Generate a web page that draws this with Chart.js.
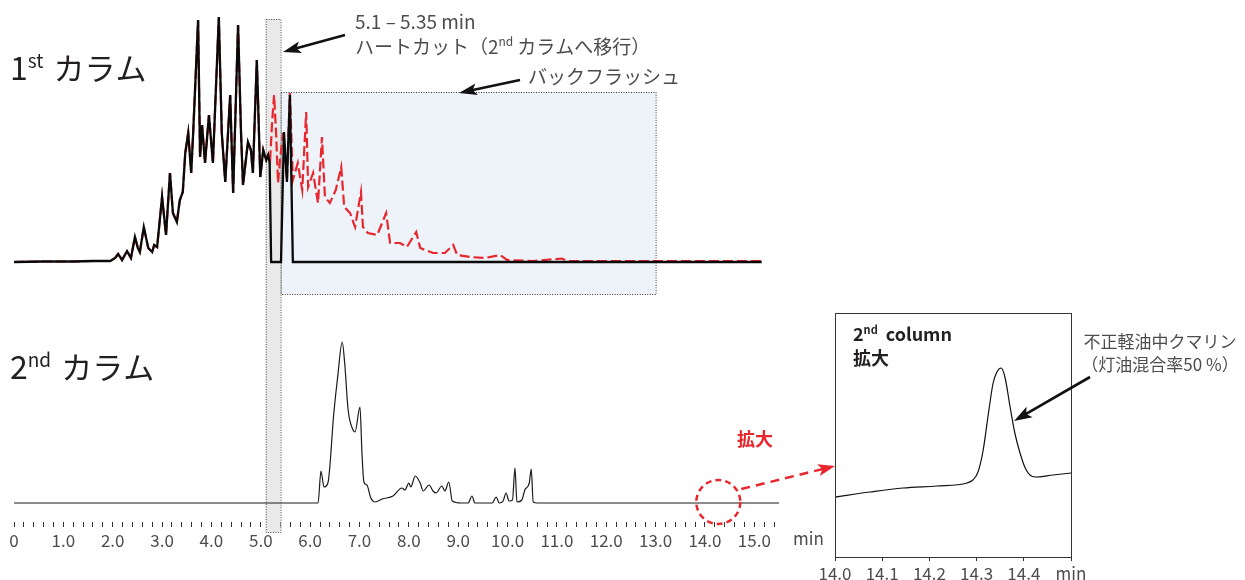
<!DOCTYPE html>
<html><head><meta charset="utf-8">
<script src="https://cdn.jsdelivr.net/npm/chart.js@4.4.0/dist/chart.umd.min.js"></script>
<style>
html,body{margin:0;padding:0;background:#fff;}
#wrap{position:relative;width:1245px;height:580px;overflow:hidden;}
canvas{position:absolute;left:0;top:0;}
</style></head><body>
<div id="wrap"><canvas id="main" width="1245" height="580"></canvas><canvas id="inset" width="1245" height="580"></canvas></div>
<script>
// ---------- data (retention time in min, detector signal in arbitrary units) ----------
const col1Time   = [0, 0.6, 1.2, 1.6, 1.95, 2.05, 2.11, 2.19, 2.29, 2.37, 2.45, 2.51, 2.55, 2.63, 2.72, 2.80, 2.84, 2.90, 3.00, 3.08, 3.16, 3.22, 3.30, 3.36, 3.42, 3.47, 3.53, 3.59, 3.63, 3.73, 3.77, 3.81, 3.87, 3.95, 4.03, 4.15, 4.21, 4.28, 4.38, 4.44, 4.54, 4.60, 4.64, 4.74, 4.80, 4.84, 4.92, 4.99, 5.05, 5.11, 5.15, 5.18, 5.21, 5.41, 5.47, 5.53, 5.59, 5.65, 15.15];
const col1Signal = [0, 0.5, 0.5, 1, 1, 4, 8, 2, 11, 4, 25, 14, 10, 35, 14, 10, 17, 15, 65, 27, 89, 49, 40, 62, 70, 109, 129, 89, 129, 242, 105, 137, 99, 147, 99, 245, 129, 80, 167, 69, 237, 129, 77, 120, 112, 89, 202, 85, 112, 102, 107, 99, 0, 0, 130, 80, 167, 0, 0];
// backflush trace (red dashed) after the heart-cut start; before that it follows col1
const flushStart  = 5.15;
const flushTime   = [5.19, 5.23, 5.27, 5.31, 5.35, 5.39, 5.45, 5.53, 5.59, 5.65, 5.75, 5.84, 5.92, 5.96, 6.06, 6.16, 6.24, 6.30, 6.40, 6.52, 6.63, 6.69, 6.81, 6.91, 7.03, 7.07, 7.17, 7.36, 7.54, 7.62, 7.82, 7.96, 8.15, 8.23, 8.49, 8.73, 8.90, 8.98, 9.24, 9.54, 9.85, 9.99, 10.52, 11.10, 11.21, 15.15];
const flushSignal = [102, 140, 167, 129, 79, 102, 129, 82, 169, 82, 99, 72, 150, 75, 89, 59, 125, 65, 59, 72, 95, 55, 49, 35, 70, 35, 29, 27, 49, 19, 19, 15, 30, 14, 9, 9, 17, 7, 5, 4, 7, 2, 1, 3.5, 1, 1];
const col2Time   = [0, 6.10, 6.16, 6.22, 6.28, 6.36, 6.48, 6.56, 6.65, 6.70, 6.77, 6.87, 6.91, 7.01, 7.05, 7.09, 7.15, 7.23, 7.32, 7.46, 7.68, 7.86, 7.92, 8.00, 8.04, 8.13, 8.23, 8.29, 8.41, 8.49, 8.55, 8.67, 8.73, 8.81, 8.88, 9.06, 9.20, 9.28, 9.34, 9.69, 9.77, 9.83, 9.91, 9.97, 10.03, 10.10, 10.15, 10.19, 10.29, 10.35, 10.44, 10.48, 10.52, 10.60, 15.5];
const col2Signal = [0, 0, 0, 32, 16, 20, 90, 127, 161, 140, 93, 73, 71, 96, 50, 21, 18, 5, 1, 4, 7, 15, 13, 20, 16, 27, 20, 12, 18, 12, 10, 17, 12, 21, 2, 0, 0, 7, 0, 0, 6, 0, 2, 10, 2, 3, 35, 1, 3, 13, 20, 34, 1, 0, 0];
const zoomTime   = [14.0, 14.074, 14.144, 14.216, 14.28, 14.292, 14.303, 14.314, 14.324, 14.335, 14.343, 14.352, 14.36, 14.371, 14.381, 14.392, 14.403, 14.413, 14.424, 14.462, 14.5];
const zoomSignal = [60, 65, 69, 71, 74, 77, 85, 107, 140, 174, 185, 189, 180, 150, 124, 104, 89, 82, 80, 82, 84];
const mainTickLabels  = ['0','1.0','2.0','3.0','4.0','5.0','6.0','7.0','8.0','9.0','10.0','11.0','12.0','13.0','14.0','15.0'];
const insetTickLabels = ['14.0','14.1','14.2','14.3','14.4','min'];

const FONT = "'Noto Sans CJK JP', 'Noto Sans', sans-serif";
const RED = '#e8262d';
const GRAY_TXT = '#4d4d4d';
Chart.defaults.font.family = FONT;

const pts = (xs, ys) => xs.map((x, i) => ({x, y: ys[i]}));
const col1Pts = pts(col1Time, col1Signal);
const flushPts = col1Pts.filter(p => p.x <= flushStart).concat(pts(flushTime, flushSignal));

function runs(ctx, x, y, parts, color) {
  let cx = x;
  for (const p of parts) {
    ctx.font = (p.bold ? 'bold ' : '') + p.size + 'px ' + FONT;
    ctx.fillStyle = p.color || color;
    ctx.fillText(p.t, cx, y + (p.dy || 0));
    cx += ctx.measureText(p.t).width + (p.gap || 0);
  }
}
function arrow(ctx, x1, y1, x2, y2, color, w, dash, hl, hw) {
  const a = Math.atan2(y2 - y1, x2 - x1);
  const bx = x2 - hl * Math.cos(a), by = y2 - hl * Math.sin(a);
  ctx.save();
  ctx.strokeStyle = color; ctx.fillStyle = color; ctx.lineWidth = w;
  ctx.setLineDash(dash || []);
  ctx.beginPath(); ctx.moveTo(x1, y1); ctx.lineTo(bx + 2*Math.cos(a), by + 2*Math.sin(a)); ctx.stroke();
  ctx.setLineDash([]);
  ctx.beginPath();
  ctx.moveTo(x2, y2);
  ctx.lineTo(bx - hw/2 * Math.sin(a) - 3*Math.cos(a), by + hw/2 * Math.cos(a) - 3*Math.sin(a));
  ctx.lineTo(bx + 1*Math.cos(a), by + 1*Math.sin(a));
  ctx.lineTo(bx + hw/2 * Math.sin(a) - 3*Math.cos(a), by - hw/2 * Math.cos(a) - 3*Math.sin(a));
  ctx.closePath(); ctx.fill();
  ctx.restore();
}

const boxesPlugin = {
  id: 'boxes',
  beforeDatasetsDraw(chart) {
    const {ctx, chartArea} = chart;
    const x = chart.scales.x, y1 = chart.scales.y1;
    ctx.save();
    // backflush region
    let l = x.getPixelForValue(5.4), r = x.getPixelForValue(13.0);
    let t = y1.getPixelForValue(170), b = y1.getPixelForValue(-32);
    ctx.fillStyle = '#eef2f9';
    ctx.fillRect(l, t, r - l, b - t);
    ctx.strokeStyle = '#333'; ctx.lineWidth = 1; ctx.setLineDash([1, 1.5]);
    ctx.strokeRect(l + 0.5, t + 0.5, r - l, b - t);
    // heart-cut band
    l = x.getPixelForValue(5.1); r = x.getPixelForValue(5.4);
    t = y1.getPixelForValue(243); b = chartArea.bottom + 10;
    ctx.fillStyle = '#e9e9e9';
    ctx.fillRect(l, t, r - l, b - t);
    ctx.strokeStyle = '#444';
    ctx.strokeRect(l + 0.5, t + 0.5, r - l, b - t);
    ctx.restore();
  },
  afterDraw(chart) {
    const {ctx} = chart;
    const x = chart.scales.x, y2 = chart.scales.y2;
    ctx.save();
    ctx.textBaseline = 'alphabetic'; ctx.textAlign = 'left';
    // panel titles
    runs(ctx, 10, 80, [{t:'1', size:32}, {t:'st', size:19, dy:-12, gap:10}, {t:'カラム', size:31}], '#231f20');
    runs(ctx, 10, 379, [{t:'2', size:32}, {t:'nd', size:19, dy:-12, gap:10}, {t:'カラム', size:31}], '#231f20');
    // annotations
    runs(ctx, 355, 29, [{t:'5.1 – 5.35 min', size:19}], GRAY_TXT);
    runs(ctx, 355, 54, [{t:'ハートカット（2', size:19}, {t:'nd', size:12, dy:-8, gap:4}, {t:'カラムへ移行）', size:19}], GRAY_TXT);
    runs(ctx, 528, 84, [{t:'バックフラッシュ', size:19}], GRAY_TXT);
    arrow(ctx, 345, 35, 283, 52, '#111', 2.6, null, 15, 12);
    arrow(ctx, 520, 80, 459, 93, '#111', 2.6, null, 15, 12);
    // x axis unit
    ctx.font = '17px ' + FONT; ctx.fillStyle = GRAY_TXT; ctx.textAlign = 'left';
    ctx.fillText('min', 793, 545);
    // zoom marker
    const cx = x.getPixelForValue(14.27), cy = y2.getPixelForValue(1);
    ctx.strokeStyle = RED; ctx.lineWidth = 2.5; ctx.setLineDash([6, 4]);
    ctx.beginPath(); ctx.arc(cx, cy, 22, 0, Math.PI * 2); ctx.stroke();
    ctx.setLineDash([]);
    arrow(ctx, cx + 23, cy - 13, 835, 466, RED, 2.5, [9, 6], 14, 12);
    ctx.font = 'bold 18px ' + FONT; ctx.fillStyle = RED; ctx.textAlign = 'center';
    ctx.fillText('拡大', 755, 446);
    ctx.restore();
  }
};

new Chart(document.getElementById('main'), {
  type: 'line',
  data: {
    datasets: [
      {data: col1Pts, yAxisID: 'y1', borderColor: '#0a0a0a', borderWidth: 2.3, pointRadius: 0, tension: 0, order: 0},
      {data: flushPts, yAxisID: 'y1', borderColor: RED, borderWidth: 2.2, borderDash: [10, 4], pointRadius: 0, tension: 0, order: 1},
      {data: pts(col2Time, col2Signal), yAxisID: 'y2', borderColor: '#1a1a1a', borderWidth: 1.2, pointRadius: 0, cubicInterpolationMode: 'monotone', order: 2}
    ]
  },
  options: {
    responsive: false, animation: false, events: [],
    layout: {padding: {left: 14, right: 466, top: 0, bottom: 0}},
    plugins: {legend: {display: false}, tooltip: {enabled: false}},
    scales: {
      x: {
        type: 'linear', min: 0, max: 15.5, position: 'bottom',
        afterFit(s) { s.height = 58; },
        border: {display: false},
        grid: {display: true, drawOnChartArea: false, drawTicks: true, tickLength: 5, color: '#333', lineWidth: 1},
        ticks: {
          stepSize: 0.2, autoSkip: false, maxRotation: 0, minRotation: 0, includeBounds: false,
          padding: 3, color: GRAY_TXT, font: {size: 17},
          callback(v) { const r = Math.round(v); return Math.abs(v - r) < 1e-6 ? (mainTickLabels[r] ?? '') : ''; }
        }
      },
      y1: {type: 'linear', display: false, min: -260, max: 262},
      y2: {type: 'linear', display: false, min: -19, max: 503}
    }
  },
  plugins: [boxesPlugin]
});

const insetPlugin = {
  id: 'insetDeco',
  afterDraw(chart) {
    const {ctx, chartArea: a} = chart;
    ctx.save();
    ctx.strokeStyle = '#333'; ctx.lineWidth = 1;
    ctx.strokeRect(Math.round(a.left) + 0.5, Math.round(a.top) + 0.5, Math.round(a.right - a.left), Math.round(a.bottom - a.top));
    ctx.textBaseline = 'alphabetic'; ctx.textAlign = 'left';
    runs(ctx, 853, 341, [{t:'2', size:18, bold:true}, {t:'nd', size:11, bold:true, dy:-7, gap:8}, {t:'column', size:18, bold:true}], '#231f20');
    runs(ctx, 853, 365, [{t:'拡大', size:18, bold:true}], '#231f20');
    ctx.font = '17px ' + FONT; ctx.fillStyle = GRAY_TXT; ctx.textAlign = 'center';
    ctx.fillText('不正軽油中クマリン', 1160, 348);
    ctx.fillText('（灯油混合率50 %）', 1160, 371);
    arrow(ctx, 1090, 377, 1014, 421, '#111', 2.6, null, 15, 12);
    ctx.restore();
  }
};

new Chart(document.getElementById('inset'), {
  type: 'line',
  data: {datasets: [{data: pts(zoomTime, zoomSignal), borderColor: '#111', borderWidth: 1.2, pointRadius: 0, cubicInterpolationMode: 'monotone'}]},
  options: {
    responsive: false, animation: false, events: [],
    layout: {padding: {left: 835, right: 174, top: 313, bottom: 0}},
    plugins: {legend: {display: false}, tooltip: {enabled: false}},
    scales: {
      x: {
        type: 'linear', min: 14.0, max: 14.5, position: 'bottom',
        afterFit(s) { s.height = 23; },
        border: {display: false},
        grid: {display: true, drawOnChartArea: false, drawTicks: true, tickLength: 4, color: '#333', lineWidth: 1},
        ticks: {stepSize: 0.1, autoSkip: false, maxRotation: 0, padding: 2, color: GRAY_TXT, font: {size: 17},
          callback(v, i) { return insetTickLabels[i] ?? ''; }}
      },
      y: {type: 'linear', display: false, min: 0, max: 244}
    }
  },
  plugins: [insetPlugin]
});
</script>
</body></html>
